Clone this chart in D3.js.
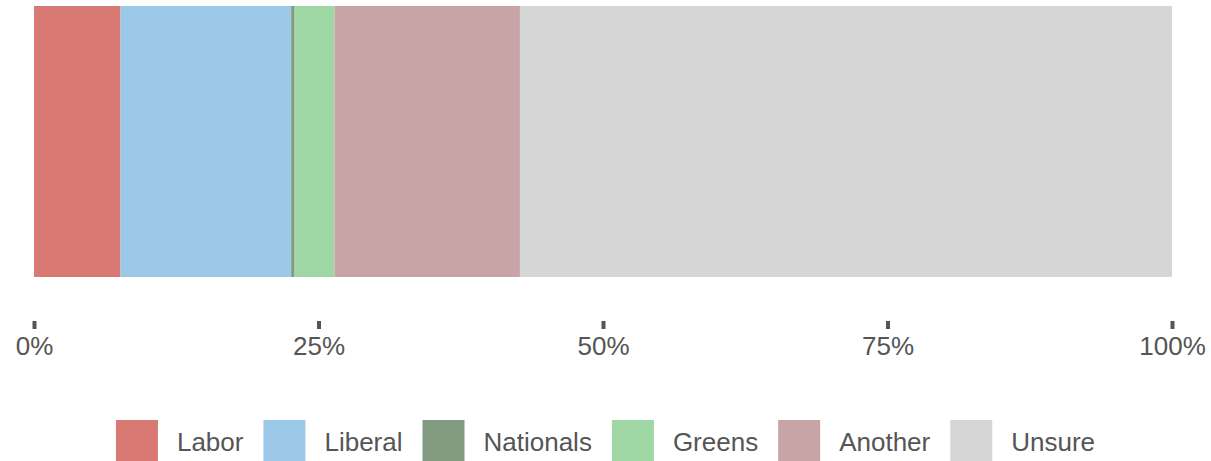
<!DOCTYPE html>
<html><head><meta charset="utf-8">
<script src="https://cdn.jsdelivr.net/npm/d3@7"></script>
<style>body{margin:0;background:#fff;} svg{display:block;font-family:"Liberation Sans",Arial,sans-serif;}</style>
</head><body>
<svg id="chart" width="1211" height="461"></svg>
<script>
const categories = ["Labor","Liberal","Nationals","Greens","Another","Unsure"];
const values = [7.6, 15.0, 0.3, 3.5, 16.3, 57.3];
const colors = ["#d87974","#9dc9e8","#829a80","#9fd7a4","#c8a4a7","#d6d6d6"];
const tickValues = [0, 25, 50, 75, 100];
const tickLabels = ["0%","25%","50%","75%","100%"];

const svg = d3.select("#chart");
const x = d3.scaleLinear().domain([0,100]).range([34,1172]);
const y = d3.scaleBand().domain(["all"]).range([6,277]).padding(0);

let cum = 0;
const segs = categories.map((c,i)=>{const s={cat:c,x0:cum,x1:cum+values[i],color:colors[i]};cum+=values[i];return s;});

svg.append("g").selectAll("rect").data(segs).join("rect")
  .attr("x",d=>x(d.x0)).attr("width",d=>x(d.x1)-x(d.x0))
  .attr("y",y("all")).attr("height",y.bandwidth())
  .attr("fill",d=>d.color);

const axis = d3.axisBottom(x).tickValues(tickValues).tickFormat((d,i)=>tickLabels[i]).tickSize(8).tickPadding(8);
const ag = svg.append("g").attr("transform","translate(0,321)").call(axis);
ag.select(".domain").remove();
ag.selectAll(".tick line").attr("stroke","#555").attr("stroke-width",4);
ag.selectAll(".tick text").attr("fill","#555").attr("font-size",26).attr("font-family","Liberation Sans, Arial, sans-serif");

// legend
const lg = svg.append("g");
const sq = 42, gapText = 19, gapItem = 20, fs = 26;
const items = lg.selectAll("g").data(categories).join("g");
items.append("rect").attr("width",sq).attr("height",sq).attr("fill",(d,i)=>colors[i]);
items.append("text").text(d=>d).attr("x",sq+gapText).attr("y",31)
  .attr("fill","#555").attr("font-size",fs);
let xpos = 0;
items.each(function(){
  const w = d3.select(this).select("text").node().getComputedTextLength();
  d3.select(this).attr("transform",`translate(${xpos},420)`);
  xpos += sq+gapText+w+gapItem;
});
const total = xpos - gapItem;
lg.attr("transform",`translate(${(1211-total)/2},0)`);
</script>
</body></html>
